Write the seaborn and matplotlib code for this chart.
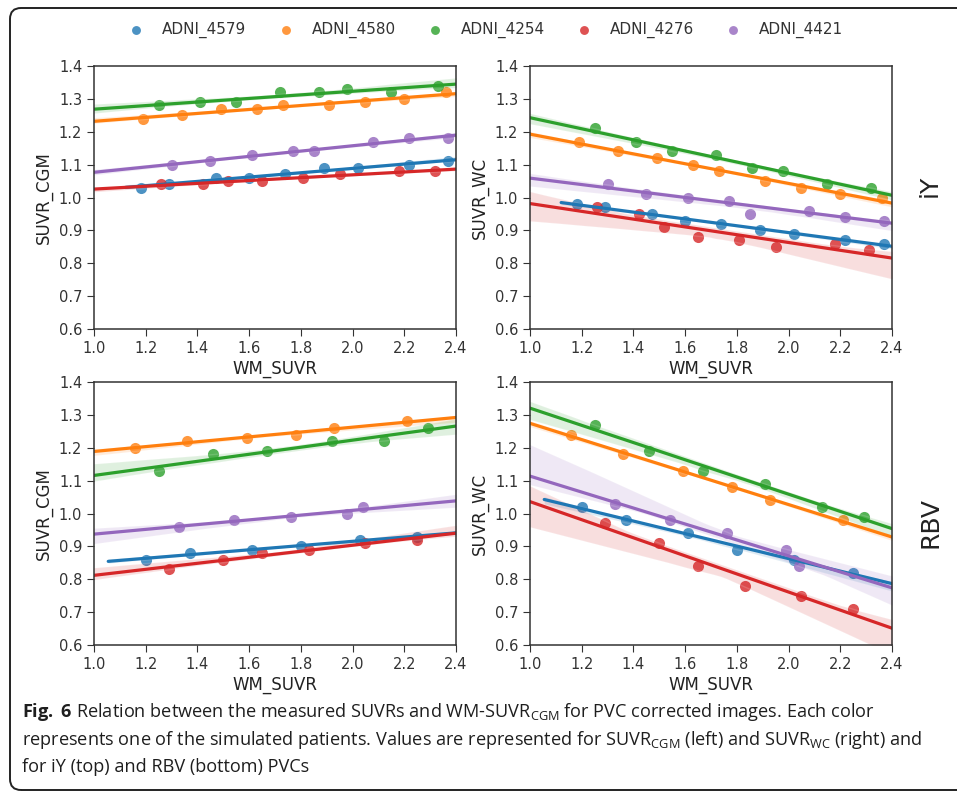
import matplotlib
matplotlib.use("Agg")
import numpy as np
import pandas as pd
import seaborn as sns
import matplotlib.pyplot as plt
from matplotlib import font_manager
from matplotlib.patches import FancyBboxPatch

# ---------------------------------------------------------------- data
patients = ["ADNI_4579", "ADNI_4580", "ADNI_4254", "ADNI_4276", "ADNI_4421"]
palette = ["#1f77b4", "#ff7f0e", "#2ca02c", "#d62728", "#9467bd"]

# iY correction, SUVR_CGM
iy_cgm_wm = {
    "ADNI_4579": [1.18, 1.29, 1.47, 1.60, 1.74, 1.89, 2.02, 2.22, 2.37],
    "ADNI_4580": [1.19, 1.34, 1.49, 1.63, 1.73, 1.91, 2.05, 2.20, 2.36],
    "ADNI_4254": [1.25, 1.41, 1.55, 1.72, 1.87, 1.98, 2.15, 2.33],
    "ADNI_4276": [1.26, 1.42, 1.52, 1.65, 1.81, 1.95, 2.18, 2.32],
    "ADNI_4421": [1.30, 1.45, 1.61, 1.77, 1.85, 2.08, 2.22, 2.37],
}
iy_cgm_suvr = {
    "ADNI_4579": [1.03, 1.04, 1.06, 1.06, 1.07, 1.09, 1.09, 1.10, 1.11],
    "ADNI_4580": [1.24, 1.25, 1.27, 1.27, 1.28, 1.28, 1.29, 1.30, 1.32],
    "ADNI_4254": [1.28, 1.29, 1.29, 1.32, 1.32, 1.33, 1.32, 1.34],
    "ADNI_4276": [1.04, 1.04, 1.05, 1.05, 1.06, 1.07, 1.08, 1.08],
    "ADNI_4421": [1.10, 1.11, 1.13, 1.14, 1.14, 1.17, 1.18, 1.18],
}

# iY correction, SUVR_WC
iy_wc_wm = {
    "ADNI_4579": [1.18, 1.29, 1.47, 1.60, 1.74, 1.89, 2.02, 2.22, 2.37],
    "ADNI_4580": [1.19, 1.34, 1.49, 1.63, 1.73, 1.91, 2.05, 2.20, 2.36],
    "ADNI_4254": [1.25, 1.41, 1.55, 1.72, 1.86, 1.98, 2.15, 2.32],
    "ADNI_4276": [1.26, 1.42, 1.52, 1.65, 1.81, 1.95, 2.18, 2.31],
    "ADNI_4421": [1.30, 1.45, 1.61, 1.77, 1.85, 2.08, 2.22, 2.37],
}
iy_wc_suvr = {
    "ADNI_4579": [0.98, 0.97, 0.95, 0.93, 0.92, 0.90, 0.89, 0.87, 0.86],
    "ADNI_4580": [1.17, 1.14, 1.12, 1.10, 1.08, 1.05, 1.03, 1.01, 1.00],
    "ADNI_4254": [1.21, 1.17, 1.14, 1.13, 1.09, 1.08, 1.04, 1.03],
    "ADNI_4276": [0.97, 0.95, 0.91, 0.88, 0.87, 0.85, 0.86, 0.84],
    "ADNI_4421": [1.04, 1.01, 1.00, 0.99, 0.95, 0.96, 0.94, 0.93],
}

# RBV correction, SUVR_CGM
rbv_cgm_wm = {
    "ADNI_4579": [1.20, 1.37, 1.61, 1.80, 2.03, 2.25],
    "ADNI_4580": [1.16, 1.36, 1.59, 1.78, 1.93, 2.21],
    "ADNI_4254": [1.25, 1.46, 1.67, 1.92, 2.12, 2.29],
    "ADNI_4276": [1.29, 1.50, 1.65, 1.83, 2.05, 2.25],
    "ADNI_4421": [1.33, 1.54, 1.76, 1.98, 2.04],
}
rbv_cgm_suvr = {
    "ADNI_4579": [0.86, 0.88, 0.89, 0.90, 0.92, 0.93],
    "ADNI_4580": [1.20, 1.22, 1.23, 1.24, 1.26, 1.28],
    "ADNI_4254": [1.13, 1.18, 1.19, 1.22, 1.22, 1.26],
    "ADNI_4276": [0.83, 0.86, 0.88, 0.89, 0.91, 0.92],
    "ADNI_4421": [0.96, 0.98, 0.99, 1.00, 1.02],
}

# RBV correction, SUVR_WC
rbv_wc_wm = {
    "ADNI_4579": [1.20, 1.37, 1.61, 1.80, 2.02, 2.25],
    "ADNI_4580": [1.16, 1.36, 1.59, 1.78, 1.93, 2.21],
    "ADNI_4254": [1.25, 1.46, 1.67, 1.91, 2.13, 2.29],
    "ADNI_4276": [1.29, 1.50, 1.65, 1.83, 2.05, 2.25],
    "ADNI_4421": [1.33, 1.54, 1.76, 1.99, 2.04],
}
rbv_wc_suvr = {
    "ADNI_4579": [1.02, 0.98, 0.94, 0.89, 0.86, 0.82],
    "ADNI_4580": [1.24, 1.18, 1.13, 1.08, 1.04, 0.98],
    "ADNI_4254": [1.27, 1.19, 1.13, 1.09, 1.02, 0.99],
    "ADNI_4276": [0.97, 0.91, 0.84, 0.78, 0.75, 0.71],
    "ADNI_4421": [1.03, 0.98, 0.94, 0.89, 0.84],
}

x_ticks = [1.0, 1.2, 1.4, 1.6, 1.8, 2.0, 2.2, 2.4]
y_ticks = [0.6, 0.7, 0.8, 0.9, 1.0, 1.1, 1.2, 1.3, 1.4]


def long_table(wm, suvr):
    rows = []
    for p in patients:
        for a, b in zip(wm[p], suvr[p]):
            rows.append({"patient": p, "WM_SUVR": a, "SUVR": b})
    return pd.DataFrame(rows)


def pick_family(candidates):
    names = {f.name for f in font_manager.fontManager.ttflist}
    for c in candidates:
        if c in names:
            return c
    return "DejaVu Sans"


# ---------------------------------------------------------------- style
sns.set_style("ticks")
plt.rcParams["font.family"] = ["DejaVu Sans"]
cap_family = pick_family(["Open Sans", "Noto Sans", "Liberation Sans"])
plt.rcParams["mathtext.fontset"] = "custom"
plt.rcParams["mathtext.rm"] = cap_family
plt.rcParams["mathtext.it"] = cap_family
plt.rcParams["mathtext.bf"] = cap_family + ":bold"

W, H = 957, 792
fig = plt.figure(figsize=(W / 100, H / 100), dpi=100)


def px_axes(left, top, right, bottom, **kw):
    return fig.add_axes([left / W, 1 - bottom / H, (right - left) / W, (bottom - top) / H], **kw)


ax_tl = px_axes(94, 66, 456, 329)
ax_tr = px_axes(530, 66, 892, 329)
ax_bl = px_axes(94, 382, 456, 645, sharex=ax_tl)
ax_br = px_axes(530, 382, 892, 645, sharex=ax_tr)

panels = [
    (ax_tl, long_table(iy_cgm_wm, iy_cgm_suvr), "SUVR_CGM"),
    (ax_tr, long_table(iy_wc_wm, iy_wc_suvr), "SUVR_WC"),
    (ax_bl, long_table(rbv_cgm_wm, rbv_cgm_suvr), "SUVR_CGM"),
    (ax_br, long_table(rbv_wc_wm, rbv_wc_suvr), "SUVR_WC"),
]

# one patient at a time across the four panels; each fit line spans the
# current view, which is allowed to grow with margins as series are added
for p, c in zip(patients, palette):
    for ax, df, _ in panels:
        sub = df[df["patient"] == p]
        sns.regplot(data=sub, x="WM_SUVR", y="SUVR", ax=ax, color=c,
                    truncate=False, label=p, seed=0,
                    scatter_kws=dict(s=64, alpha=0.8, linewidths=0),
                    line_kws=dict(lw=2.3))
        for art in list(ax.lines) + list(ax.collections):
            art.sticky_edges.x.clear()

for ax, _, ylab in panels:
    ax.set_xlim(1.0, 2.4)
    ax.set_ylim(0.6, 1.4)
    ax.set_xticks(x_ticks)
    ax.set_yticks(y_ticks)
    ax.set_xticklabels([f"{v:.1f}" for v in x_ticks])
    ax.set_yticklabels([f"{v:.1f}" for v in y_ticks])
    ax.tick_params(labelsize=10.5, colors="#333333", length=5)
    ax.tick_params(labelbottom=True)
    ax.set_xlabel("WM_SUVR", fontsize=12, color="#222222", labelpad=3)
    ax.set_ylabel(ylab, fontsize=12, color="#222222")
    for s in ax.spines.values():
        s.set_color("#333333")
        s.set_linewidth(1.1)

handles, labels = ax_tl.get_legend_handles_labels()
fig.legend(handles[:5], labels[:5], loc="center", bbox_to_anchor=(482 / W, 1 - 30 / H),
           ncol=5, frameon=False, fontsize=11, handletextpad=0.7,
           columnspacing=1.55, markerscale=0.8, labelcolor="#333333")

fig.text(930 / W, 1 - 186 / H, "iY", rotation=90, fontsize=18,
         ha="center", va="center", color="#222222")
fig.text(930 / W, 1 - 522 / H, "RBV", rotation=90, fontsize=18,
         ha="center", va="center", color="#222222")

# caption
cap_lines = [
    r"$\mathbf{Fig.}$ $\mathbf{6}$ Relation between the measured SUVRs and WM-SUVR$_{\mathrm{CGM}}$"
    r" for PVC corrected images. Each color",
    r"represents one of the simulated patients. Values are represented for SUVR$_{\mathrm{CGM}}$"
    r" (left) and SUVR$_{\mathrm{WC}}$ (right) and",
    "for iY (top) and RBV (bottom) PVCs",
]
for yy, line in zip([712, 740, 767], cap_lines):
    fig.text(22 / W, 1 - yy / H, line, fontsize=13.1, family=cap_family,
             ha="left", va="center", color="#1e1e1e")

# rounded frame around the figure panel
frame = FancyBboxPatch((10 / 100, 2 / 100), (W + 40) / 100, (H - 10) / 100,
                       boxstyle="round,pad=0,rounding_size=0.11",
                       transform=fig.dpi_scale_trans, fill=False,
                       edgecolor="#222222", linewidth=1.4, clip_on=False)
fig.patches.append(frame)

fig.savefig("out.png", dpi=100)
